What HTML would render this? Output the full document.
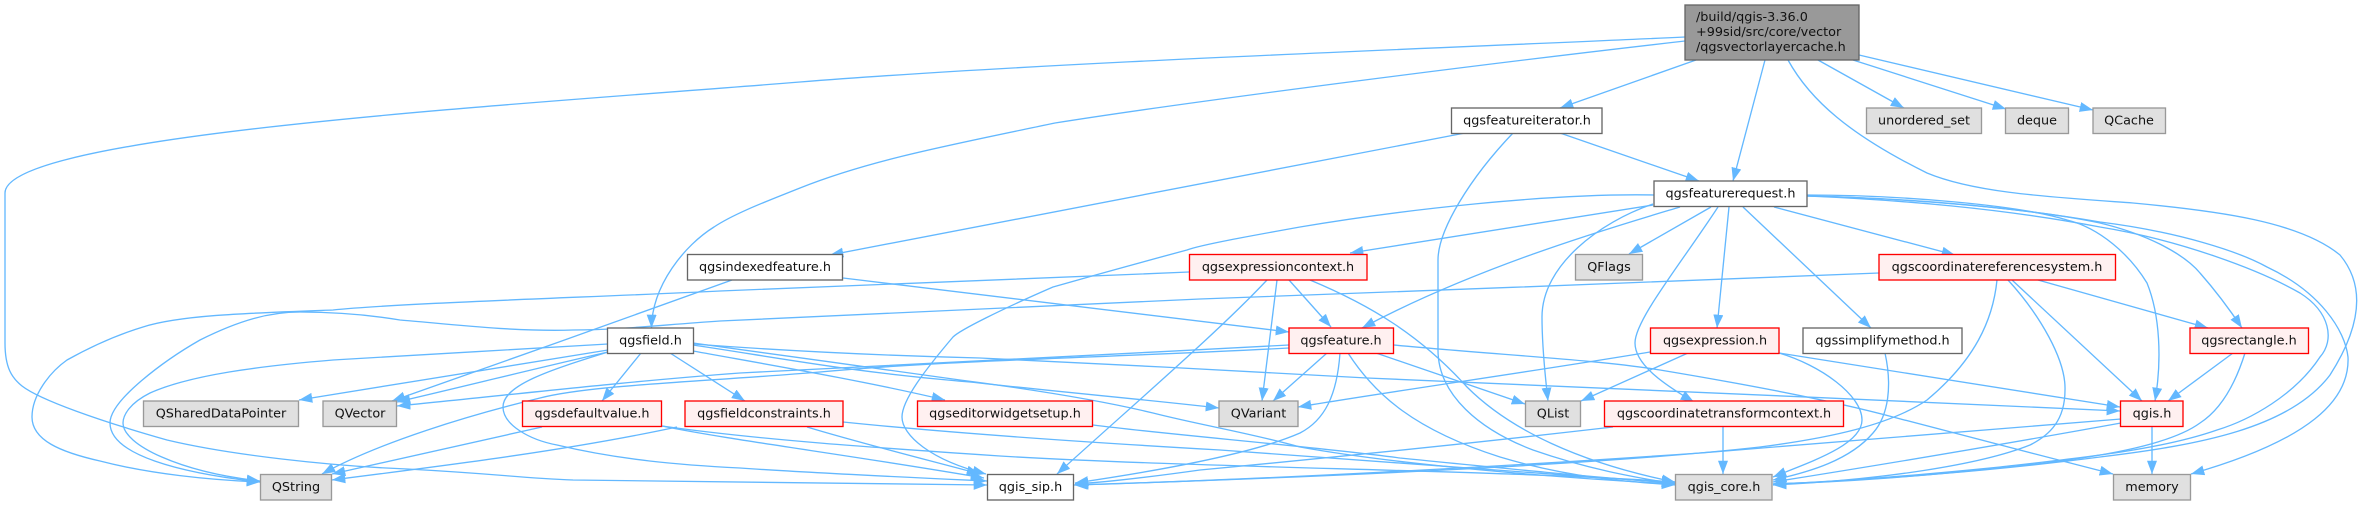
<!DOCTYPE html>
<html><head><meta charset="utf-8"><style>
html,body{margin:0;padding:0;background:#fff}
svg{display:block}
.e path{fill:none;stroke:#63b8ff;stroke-width:1.33;marker-end:url(#a)}
.n rect{stroke-width:1.33}
.w rect{fill:#fff;stroke:#666}
.g rect{fill:#e0e0e0;stroke:#999}
.r rect{fill:#fff0f0;stroke:#f00}
text{font-family:"DejaVu Sans",sans-serif;font-size:12.8px;fill:#111;text-anchor:middle}
</style></head><body>
<svg xmlns="http://www.w3.org/2000/svg" width="2362" height="505" viewBox="0 0 2362 505">
<defs><marker id="a" markerUnits="userSpaceOnUse" markerWidth="15" markerHeight="12" refX="13.3" refY="5" orient="auto"><path d="M0,0 L13.3,5 L0,10 Z" fill="#63b8ff"/></marker></defs>
<g class="e">
<path d="M1685,37 C1450,48 1050,62 800,82 C500,106 5,135 5,193 L5,343 C5,368 12,378 22,386 C40,400 100,421 167,440 C230,455 330,466 407,469 C500,474 520,478 573,480 C680,482 830,484 987,485"/>
<path d="M1685,41 C1500,62 1200,100 1055,123 C950,145 870,160 800,188 C770,200 735,213 714,227 C685,245 652,285 651.5,328"/>
<path d="M1696,60 L1560,108"/>
<path d="M1765,60 L1733,181"/>
<path d="M1788,60 C1810,100 1850,135 1927,173 C1975,193 2050,197 2133,203 C2220,211 2300,222 2340,255 C2365,285 2362,325 2330,375 C2290,428 2200,445 2100,457 C2000,470 1880,480 1773,484"/>
<path d="M1818,60 L1904,108"/>
<path d="M1853,60 L2006,109"/>
<path d="M1859,55 L2093,110"/>
<path d="M1807,196 C1900,200 2000,208 2100,227 C2180,240 2260,270 2300,293 C2330,312 2335,340 2320,357 C2295,395 2250,420 2217,430 C2160,450 2080,458 2000,467 C1920,475 1840,482 1773,484"/>
<path d="M1807,196 C1900,198 2000,205 2100,222 C2180,232 2240,252 2267,267 C2320,292 2345,330 2348,357 C2350,400 2310,440 2191,474"/>
<path d="M1807,196 C1900,198 2030,208 2100,223 C2150,235 2185,255 2200,273 C2215,290 2230,310 2242,328"/>
<path d="M1807,195 C1900,195 2020,205 2067,220 C2100,228 2130,255 2147,283 C2160,315 2162,360 2155,401"/>
<path d="M2012,280 L2142,401"/>
<path d="M2038,280 L2208,328"/>
<path d="M2008,280 C2040,315 2066,360 2065,390 C2065,420 2050,435 2030,445 C1980,465 1880,480 1773,485"/>
<path d="M1997,280 C1993,320 1975,360 1927,400 C1890,425 1830,438 1760,447 C1600,465 1300,478 1074,485"/>
<path d="M1879,273 C1700,280 1400,292 1200,299 C1000,308 800,316 720,321 C660,325 620,330 573,330 C510,332 440,323 400,320 C370,315 340,312 300,312 C270,312 240,320 200,340 C165,360 110,400 110,423 C110,455 180,473 260,482"/>
<path d="M1189,272 C1000,280 800,288 720,291 C600,297 400,303 333,310 C250,313 180,315 143,327 C110,337 85,350 67,360 C50,372 32,395 32,417 C32,440 60,452 100,461 C150,474 210,480 260,482"/>
<path d="M608,344 C520,349 420,355 333,360 C260,366 190,375 150,393 C130,403 123,415 123,423 C123,445 180,472 260,481"/>
<path d="M608,350 C520,365 420,380 299,400"/>
<path d="M608,352 C550,365 470,385 397,402"/>
<path d="M732,280 C650,310 480,370 392,401"/>
<path d="M1289,345 C1100,355 900,365 740,373 C620,382 510,395 397,406"/>
<path d="M1289,348 C1100,358 950,360 820,372 C700,382 590,385 540,398 C470,415 380,442 322,474"/>
<path d="M608,352 C550,370 503,385 503,407 C503,425 530,440 557,445 C620,460 680,465 740,468 C810,473 900,477 987,481"/>
<path d="M542,427 L332,474"/>
<path d="M677,427 C570,450 450,465 332,480"/>
<path d="M662,426 C730,440 850,455 984,478"/>
<path d="M662,426 C760,440 880,448 1000,456 C1200,468 1500,470 1675,482"/>
<path d="M843,422 C950,433 1080,442 1220,450 C1400,462 1550,475 1675,483"/>
<path d="M1093,425 C1180,436 1300,445 1400,458 C1500,468 1600,478 1675,483"/>
<path d="M693,343 C760,352 887,370 960,380 C1060,393 1120,405 1153,413 C1200,425 1250,433 1300,447 C1400,465 1560,478 1675,484"/>
<path d="M693,344 C800,352 900,356 980,358 C1100,363 1250,372 1367,378 C1500,385 1900,400 2120,411"/>
<path d="M693,345 C780,358 850,372 970,382 C1060,392 1150,400 1219,408"/>
<path d="M693,351 C770,365 860,380 945,400"/>
<path d="M670,353 L745,401"/>
<path d="M641,353 L602,401"/>
<path d="M807,427 C860,443 920,458 980,474"/>
<path d="M1340,353 C1337,395 1325,420 1300,433 C1250,455 1150,472 1075,483"/>
<path d="M1267,280 C1220,330 1150,390 1057,474"/>
<path d="M2121,419 C2000,430 1850,442 1700,453 C1500,467 1250,480 1075,485"/>
<path d="M1613,427 C1500,440 1360,455 1200,470 C1150,477 1110,482 1075,484"/>
<path d="M1654,195 C1550,193 1400,210 1300,227 C1250,236 1200,245 1187,250 C1120,268 1060,285 1053,287 C1000,310 960,330 953,337 C925,370 902,400 902,417 C902,435 930,460 986,474"/>
<path d="M1513,133 C1470,178 1438,230 1438,260 L1438,350 C1438,395 1480,430 1533,450 C1590,470 1640,478 1675,484"/>
<path d="M1310,280 C1370,305 1420,335 1467,387 C1510,430 1580,463 1675,482"/>
<path d="M1348,353 C1375,395 1415,430 1500,457 C1570,478 1630,482 1675,485"/>
<path d="M1394,345 C1500,355 1600,360 1660,370 C1750,385 1830,400 1893,417 C1960,435 2040,455 2113,474"/>
<path d="M843,278 L1289,332"/>
<path d="M1465,133 L830,255"/>
<path d="M1560,133 L1699,181"/>
<path d="M1653,205 L1350,253"/>
<path d="M1680,207 C1620,225 1480,265 1362,328"/>
<path d="M1653,204 C1600,222 1542,265 1542,317 C1542,345 1545,375 1548,401"/>
<path d="M1711,207 L1629,254"/>
<path d="M1729,207 L1717,328"/>
<path d="M1718,207 C1680,265 1635,320 1635,343 C1635,365 1665,385 1694,402"/>
<path d="M1743,207 L1871,328"/>
<path d="M1774,207 L1955,255"/>
<path d="M1650,352 C1530,372 1400,390 1298,407"/>
<path d="M1688,353 L1581,401"/>
<path d="M1779,353 L2120,407"/>
<path d="M1779,353 C1820,365 1862,395 1862,420 C1862,445 1810,462 1773,477"/>
<path d="M1885,353 C1892,385 1889,415 1873,433 C1850,460 1810,472 1773,480"/>
<path d="M1723,427 L1723,474"/>
<path d="M2121,423 C2000,445 1880,465 1773,482"/>
<path d="M2152,427 L2152,474"/>
<path d="M2233,353 L2168,401"/>
<path d="M2245,353 C2235,385 2220,410 2200,423 C2170,445 2100,458 2000,468 C1920,476 1850,482 1773,484"/>
<path d="M1277,280 L1262,401"/>
<path d="M1289,280 L1331,327"/>
<path d="M1327,353 L1273,401"/>
<path d="M1376,353 L1525,404"/>
</g>
<g class="n">
<g><rect x="1685" y="5" width="174" height="55" fill="#999" stroke="#666" stroke-width="1.33"/>
<text x="1696" y="21" style="text-anchor:start">/build/qgis-3.36.0</text>
<text x="1696" y="36" style="text-anchor:start">+99sid/src/core/vector</text>
<text x="1696" y="51" style="text-anchor:start">/qgsvectorlayercache.h</text></g>
<g class="g"><rect x="1866.5" y="108" width="115" height="25.5"/><text x="1924" y="124.5">unordered_set</text></g>
<g class="g"><rect x="2005.5" y="108" width="63" height="25.5"/><text x="2037" y="124.5">deque</text></g>
<g class="g"><rect x="2093" y="108" width="72.5" height="25.5"/><text x="2129" y="124.5">QCache</text></g>
<g class="w"><rect x="1451.5" y="108" width="150.5" height="25.5"/><text x="1527" y="124.5">qgsfeatureiterator.h</text></g>
<g class="w"><rect x="1654" y="181" width="153" height="25.5"/><text x="1730.5" y="197.5">qgsfeaturerequest.h</text></g>
<g class="w"><rect x="687.5" y="254.5" width="155" height="25.5"/><text x="765" y="271">qgsindexedfeature.h</text></g>
<g class="r"><rect x="1189.5" y="254.5" width="177.5" height="25.5"/><text x="1278" y="271">qgsexpressioncontext.h</text></g>
<g class="g"><rect x="1575.5" y="254.5" width="67" height="25.5"/><text x="1609" y="271">QFlags</text></g>
<g class="r"><rect x="1879" y="254.5" width="236.5" height="25.5"/><text x="1997" y="271">qgscoordinatereferencesystem.h</text></g>
<g class="w"><rect x="607.5" y="328" width="86" height="25.5"/><text x="650.5" y="344.5">qgsfield.h</text></g>
<g class="r"><rect x="1289" y="328" width="104.5" height="25.5"/><text x="1341" y="344.5">qgsfeature.h</text></g>
<g class="r"><rect x="1650.5" y="328" width="128.5" height="25.5"/><text x="1715" y="344.5">qgsexpression.h</text></g>
<g class="w"><rect x="1803" y="328" width="159" height="25.5"/><text x="1882.5" y="344.5">qgssimplifymethod.h</text></g>
<g class="r"><rect x="2190" y="328" width="118.5" height="25.5"/><text x="2249" y="344.5">qgsrectangle.h</text></g>
<g class="g"><rect x="143.5" y="401" width="155" height="25.5"/><text x="221" y="417.5">QSharedDataPointer</text></g>
<g class="g"><rect x="323" y="401" width="73.5" height="25.5"/><text x="360" y="417.5">QVector</text></g>
<g class="r"><rect x="522.5" y="401" width="139" height="25.5"/><text x="592" y="417.5">qgsdefaultvalue.h</text></g>
<g class="r"><rect x="685" y="401" width="158" height="25.5"/><text x="764" y="417.5">qgsfieldconstraints.h</text></g>
<g class="r"><rect x="917.5" y="401" width="175" height="25.5"/><text x="1005" y="417.5">qgseditorwidgetsetup.h</text></g>
<g class="g"><rect x="1219" y="401" width="79" height="25.5"/><text x="1258.5" y="417.5">QVariant</text></g>
<g class="g"><rect x="1525.5" y="401" width="55" height="25.5"/><text x="1553" y="417.5">QList</text></g>
<g class="r"><rect x="1604.5" y="401" width="239" height="25.5"/><text x="1724" y="417.5">qgscoordinatetransformcontext.h</text></g>
<g class="r"><rect x="2120.5" y="401" width="62.5" height="25.5"/><text x="2152" y="417.5">qgis.h</text></g>
<g class="g"><rect x="260.5" y="474.5" width="71" height="25.5"/><text x="296" y="491">QString</text></g>
<g class="w"><rect x="987.5" y="474.5" width="86" height="25.5"/><text x="1030.5" y="491">qgis_sip.h</text></g>
<g class="g"><rect x="1675.5" y="474.5" width="96.5" height="25.5"/><text x="1724" y="491">qgis_core.h</text></g>
<g class="g"><rect x="2113.5" y="474.5" width="77" height="25.5"/><text x="2152" y="491">memory</text></g>
</g>
</svg>
</body></html>
